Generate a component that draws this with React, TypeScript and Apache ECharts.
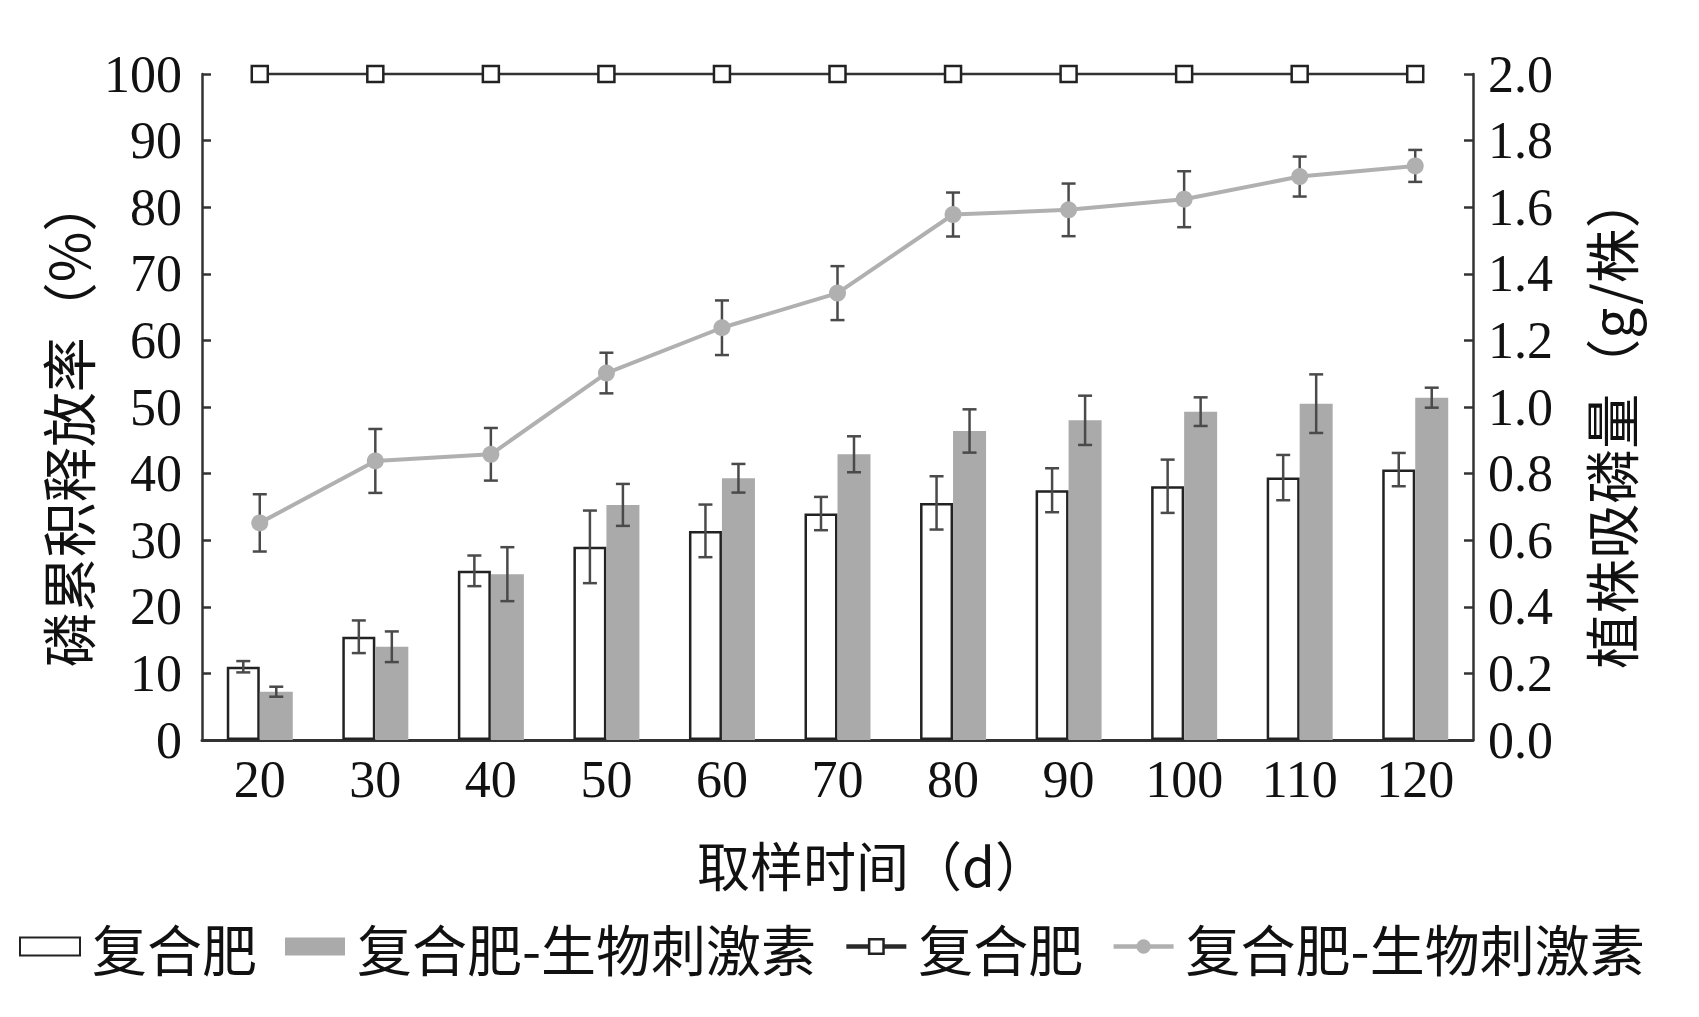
import React, { useEffect, useRef } from "react";
import * as echarts from "echarts";

const categories = ["20", "30", "40", "50", "60", "70", "80", "90", "100", "110", "120"];
const releaseCompound = [100, 100, 100, 100, 100, 100, 100, 100, 100, 100, 100];
const releaseBio = [32.6, 41.9, 42.9, 55.1, 61.9, 67.1, 78.9, 79.6, 81.2, 84.6, 86.2];
const releaseBioErr = [4.3, 4.8, 3.95, 3.05, 4.1, 4.05, 3.3, 3.95, 4.2, 3.0, 2.4];
const uptakeCompound = [0.22, 0.31, 0.508, 0.58, 0.628, 0.68, 0.712, 0.75, 0.762, 0.788, 0.812];
const uptakeCompoundErr = [0.017, 0.049, 0.046, 0.109, 0.079, 0.05, 0.08, 0.066, 0.08, 0.068, 0.05];
const uptakeBio = [0.145, 0.28, 0.498, 0.706, 0.786, 0.858, 0.928, 0.96, 0.986, 1.01, 1.028];
const uptakeBioErr = [0.015, 0.046, 0.081, 0.063, 0.043, 0.054, 0.065, 0.074, 0.043, 0.088, 0.03];
const leftTicks = [0, 100, 10];
const rightTicks = [0, 2, 0.2];

const seriesLabels: Record<string, string> = {
  barCF: "复合肥",
  barBio: "复合肥-生物刺激素",
  lineCF: "复合肥",
  lineBio: "复合肥-生物刺激素",
};

const SERIF = "'Liberation Serif', 'Times New Roman', serif";
const CJK = "'Noto Sans CJK SC', sans-serif";
const ERR_COLOR = "#4a4a4a";
const BAR_W = 33;

function errData(vals: number[], errs: number[]) {
  return vals.map((v, i) => [i, v - errs[i], v + errs[i]]);
}

function makeErrRender(offset: number) {
  return (params: any, api: any) => {
    const idx = api.value(0);
    const lo = api.coord([idx, api.value(1)]);
    const hi = api.coord([idx, api.value(2)]);
    const x = lo[0] + offset;
    const cap = 7;
    const style = { stroke: ERR_COLOR, lineWidth: 2.5 };
    return {
      type: "group",
      children: [
        { type: "line", shape: { x1: x, y1: lo[1], x2: x, y2: hi[1] }, style },
        { type: "line", shape: { x1: x - cap, y1: hi[1], x2: x + cap, y2: hi[1] }, style },
        { type: "line", shape: { x1: x - cap, y1: lo[1], x2: x + cap, y2: lo[1] }, style },
      ],
    };
  };
}

export default function App() {
  const ref = useRef<HTMLDivElement>(null);
  useEffect(() => {
    document.body.style.margin = "0";
    if (!ref.current) return;
    const chart = echarts.init(ref.current, undefined, { renderer: "svg" });
    const option: any = {
      animation: false,
      backgroundColor: "#ffffff",
      grid: { left: 202, right: 226, top: 74, bottom: 277 },
      legend: {
        left: 14,
        top: 914,
        itemWidth: 60,
        itemHeight: 18,
        itemGap: 28,
        formatter: (name: string) => seriesLabels[name],
        textStyle: { fontFamily: CJK, fontSize: 55, color: "#111", padding: [0, 0, 0, 7] },
        data: [
          { name: "barCF", icon: "rect" },
          { name: "barBio", icon: "rect" },
          {
            name: "lineCF",
            lineStyle: { width: 4.5, color: "#2a2a2a" },
            itemStyle: { color: "#ffffff", borderColor: "#222", borderWidth: 2.5 },
          },
          {
            name: "lineBio",
            lineStyle: { width: 4.5, color: "#b0b0b0" },
            itemStyle: { color: "#b0b0b0" },
          },
        ],
      },
      xAxis: {
        type: "category",
        data: categories,
        name: "取样时间（d）",
        nameLocation: "middle",
        nameGap: 97,
        nameTextStyle: { fontFamily: CJK, fontSize: 53, color: "#111", padding: [0, 0, 0, 70] },
        axisLine: { lineStyle: { color: "#333", width: 3 } },
        axisTick: { show: false },
        axisLabel: { fontFamily: SERIF, fontSize: 52, color: "#111", margin: 13 },
      },
      yAxis: [
        {
          type: "value",
          min: leftTicks[0],
          max: leftTicks[1],
          interval: leftTicks[2],
          name: "磷累积释放率（%）",
          nameLocation: "middle",
          nameRotate: 90,
          nameGap: 94,
          nameTextStyle: { fontFamily: CJK, fontSize: 55, color: "#111", padding: [0, 30, 0, 0] },
          axisLine: { show: true, lineStyle: { color: "#333", width: 2.5 } },
          axisTick: { show: true, inside: true, length: 9, lineStyle: { color: "#333", width: 2.5 } },
          splitLine: { show: false },
          axisLabel: { fontFamily: SERIF, fontSize: 52, color: "#111", margin: 20 },
        },
        {
          type: "value",
          position: "right",
          min: rightTicks[0],
          max: rightTicks[1],
          interval: rightTicks[2],
          name: "植株吸磷量（g/株）",
          nameLocation: "middle",
          nameRotate: 90,
          nameGap: 108,
          nameTextStyle: { fontFamily: CJK, fontSize: 55, color: "#111", padding: [0, 28, 0, 0] },
          axisLine: { show: true, lineStyle: { color: "#333", width: 2.5 } },
          axisTick: { show: true, inside: true, length: 9, lineStyle: { color: "#333", width: 2.5 } },
          splitLine: { show: false },
          axisLabel: {
            fontFamily: SERIF,
            fontSize: 52,
            color: "#111",
            margin: 15,
            formatter: (v: number) => v.toFixed(1),
          },
        },
      ],
      series: [
        {
          name: "barCF",
          type: "bar",
          yAxisIndex: 1,
          data: uptakeCompound,
          barWidth: BAR_W,
          barGap: "0%",
          z: 2,
          itemStyle: { color: "#ffffff", borderColor: "#222", borderWidth: 2.5 },
        },
        {
          name: "barBio",
          type: "bar",
          yAxisIndex: 1,
          data: uptakeBio,
          barWidth: BAR_W,
          barGap: "0%",
          z: 2,
          itemStyle: { color: "#aaaaaa" },
        },
        {
          name: "errBarCF",
          type: "custom",
          yAxisIndex: 1,
          z: 3,
          renderItem: makeErrRender(-BAR_W / 2),
          data: errData(uptakeCompound, uptakeCompoundErr),
          encode: { x: 0, y: [1, 2] },
        },
        {
          name: "errBarBio",
          type: "custom",
          yAxisIndex: 1,
          z: 3,
          renderItem: makeErrRender(BAR_W / 2),
          data: errData(uptakeBio, uptakeBioErr),
          encode: { x: 0, y: [1, 2] },
        },
        {
          name: "errLineBio",
          type: "custom",
          yAxisIndex: 0,
          z: 4,
          renderItem: makeErrRender(0),
          data: errData(releaseBio, releaseBioErr),
          encode: { x: 0, y: [1, 2] },
        },
        {
          name: "lineCF",
          type: "line",
          yAxisIndex: 0,
          data: releaseCompound,
          clip: false,
          z: 5,
          symbol: "rect",
          symbolSize: 16,
          lineStyle: { color: "#333", width: 2.5 },
          itemStyle: { color: "#ffffff", borderColor: "#222", borderWidth: 2.5 },
        },
        {
          name: "lineBio",
          type: "line",
          yAxisIndex: 0,
          data: releaseBio,
          clip: false,
          z: 5,
          symbol: "circle",
          symbolSize: 17,
          lineStyle: { color: "#b0b0b0", width: 4 },
          itemStyle: { color: "#b0b0b0" },
        },
      ],
    };
    chart.setOption(option);
    return () => chart.dispose();
  }, []);
  return <div ref={ref} style={{ width: 1699, height: 1017 }} />;
}
